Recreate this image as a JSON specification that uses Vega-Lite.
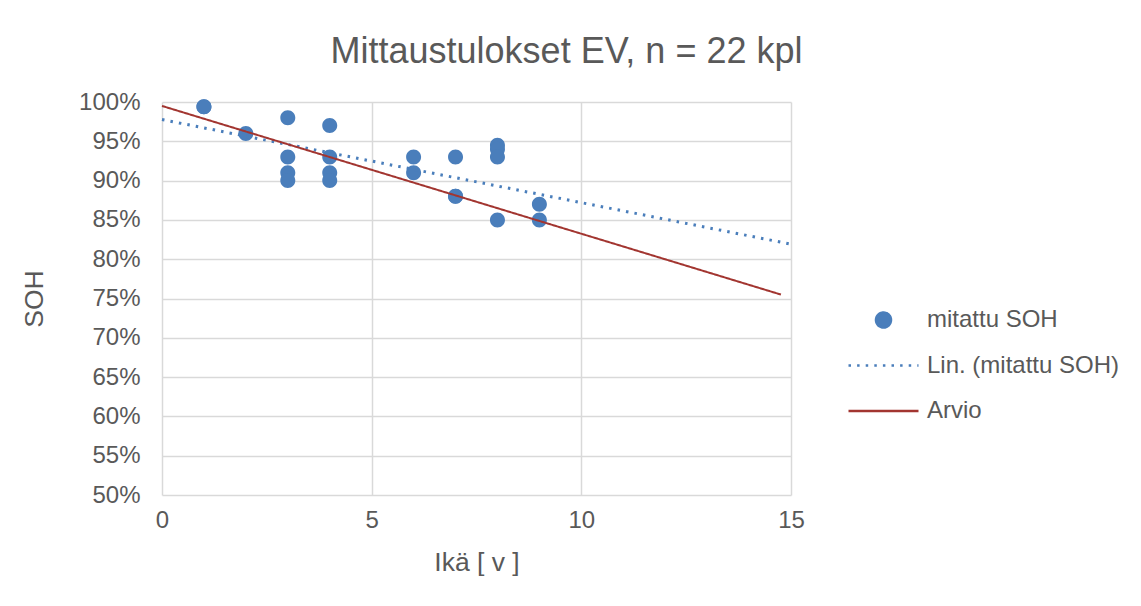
{
  "$schema": "https://vega.github.io/schema/vega-lite/v6.json",
  "width": 629,
  "height": 393,
  "autosize": "none",
  "padding": {"left": 162, "top": 102, "right": 350, "bottom": 111},
  "background": "white",
  "title": {
    "text": "Mittaustulokset EV, n = 22 kpl",
    "font": "Liberation Sans",
    "fontSize": 36,
    "fontWeight": "normal",
    "color": "#595959",
    "anchor": "middle",
    "dx": 90,
    "baseline": "alphabetic",
    "offset": -9
  },
  "config": {
    "view": {"stroke": null},
    "font": "Liberation Sans",
    "axis": {
      "grid": true,
      "gridColor": "#d9d9d9",
      "gridWidth": 1.5,
      "domain": false,
      "ticks": false,
      "labelFont": "Liberation Sans",
      "labelFontSize": 24,
      "labelColor": "#595959",
      "labelFlush": false,
      "labelOverlap": false,
      "titleFont": "Liberation Sans",
      "titleFontSize": 26.5,
      "titleFontWeight": "normal",
      "titleColor": "#595959"
    },
    "legend": {
      "title": null,
      "orient": "none",
      "legendX": 685,
      "legendY": 203,
      "padding": 0,
      "labelFont": "Liberation Sans",
      "labelFontSize": 24,
      "labelColor": "#595959",
      "labelLimit": 400,
      "labelOffset": 7,
      "symbolSize": 4900,
      "symbolStrokeWidth": 2.5,
      "symbolOpacity": 1,
      "clipHeight": 30,
      "rowPadding": 15.5
    }
  },
  "data": {
    "values": [
      {"sarja": "mitattu SOH", "ika": 1, "soh": 0.994},
      {"sarja": "mitattu SOH", "ika": 1, "soh": 0.994},
      {"sarja": "mitattu SOH", "ika": 2, "soh": 0.96},
      {"sarja": "mitattu SOH", "ika": 3, "soh": 0.98},
      {"sarja": "mitattu SOH", "ika": 3, "soh": 0.93},
      {"sarja": "mitattu SOH", "ika": 3, "soh": 0.91},
      {"sarja": "mitattu SOH", "ika": 3, "soh": 0.90},
      {"sarja": "mitattu SOH", "ika": 4, "soh": 0.97},
      {"sarja": "mitattu SOH", "ika": 4, "soh": 0.93},
      {"sarja": "mitattu SOH", "ika": 4, "soh": 0.91},
      {"sarja": "mitattu SOH", "ika": 4, "soh": 0.90},
      {"sarja": "mitattu SOH", "ika": 6, "soh": 0.93},
      {"sarja": "mitattu SOH", "ika": 6, "soh": 0.91},
      {"sarja": "mitattu SOH", "ika": 7, "soh": 0.93},
      {"sarja": "mitattu SOH", "ika": 7, "soh": 0.88},
      {"sarja": "mitattu SOH", "ika": 7, "soh": 0.88},
      {"sarja": "mitattu SOH", "ika": 8, "soh": 0.945},
      {"sarja": "mitattu SOH", "ika": 8, "soh": 0.94},
      {"sarja": "mitattu SOH", "ika": 8, "soh": 0.93},
      {"sarja": "mitattu SOH", "ika": 8, "soh": 0.85},
      {"sarja": "mitattu SOH", "ika": 9, "soh": 0.87},
      {"sarja": "mitattu SOH", "ika": 9, "soh": 0.85},
      {"sarja": "Arvio", "ika": 0, "soh": 0.995},
      {"sarja": "Arvio", "ika": 14.76, "soh": 0.755}
    ]
  },
  "layer": [
    {
      "transform": [{"filter": "datum.sarja === 'mitattu SOH'"}],
      "mark": {"type": "point", "filled": true, "size": 4900, "opacity": 1, "strokeWidth": 0},
      "encoding": {
        "x": {
          "field": "ika", "type": "quantitative",
          "scale": {"domain": [0, 15], "nice": false},
          "axis": {"title": "Ikä [ v ]", "values": [0, 5, 10, 15], "labelPadding": 13, "titlePadding": 17, "labelOverlap": false}
        },
        "y": {
          "field": "soh", "type": "quantitative",
          "scale": {"domain": [0.5, 1], "nice": false, "zero": false},
          "axis": {"title": "SOH", "values": [0.5, 0.55, 0.6, 0.65, 0.7, 0.75, 0.8, 0.85, 0.9, 0.95, 1.0], "tickCount": 30, "format": ".0%", "labelPadding": 22, "titlePadding": 30, "labelOverlap": false}
        },
        "color": {
          "field": "sarja", "type": "nominal",
          "scale": {"domain": ["mitattu SOH", "Lin. (mitattu SOH)", "Arvio"], "range": ["#4a7ebb", "#4a7ebb", "#a23530"]}
        },
        "shape": {
          "field": "sarja", "type": "nominal",
          "scale": {"domain": ["mitattu SOH", "Lin. (mitattu SOH)", "Arvio"], "range": ["M-0.2143,0A0.2143,0.2143,0,1,1,0.2143,0A0.2143,0.2143,0,1,1,-0.2143,0Z", "stroke", "stroke"]}
        }
      }
    },
    {
      "transform": [
        {"filter": "datum.sarja === 'mitattu SOH'"},
        {"regression": "soh", "on": "ika", "extent": [0, 15]}
      ],
      "mark": {"type": "line", "strokeWidth": 3},
      "encoding": {
        "x": {"field": "ika", "type": "quantitative"},
        "y": {"field": "soh", "type": "quantitative"},
        "color": {"datum": "Lin. (mitattu SOH)"},
        "strokeDash": {"datum": "Lin. (mitattu SOH)"}
      }
    },
    {
      "transform": [{"filter": "datum.sarja === 'Arvio'"}],
      "mark": {"type": "line", "strokeWidth": 2},
      "encoding": {
        "x": {"field": "ika", "type": "quantitative"},
        "y": {"field": "soh", "type": "quantitative"},
        "color": {"field": "sarja", "type": "nominal"},
        "strokeDash": {
          "field": "sarja", "type": "nominal",
          "scale": {"domain": ["mitattu SOH", "Lin. (mitattu SOH)", "Arvio"], "range": [[1, 0], [2.5, 6.1], [1, 0]]}
        }
      }
    }
  ]
}
